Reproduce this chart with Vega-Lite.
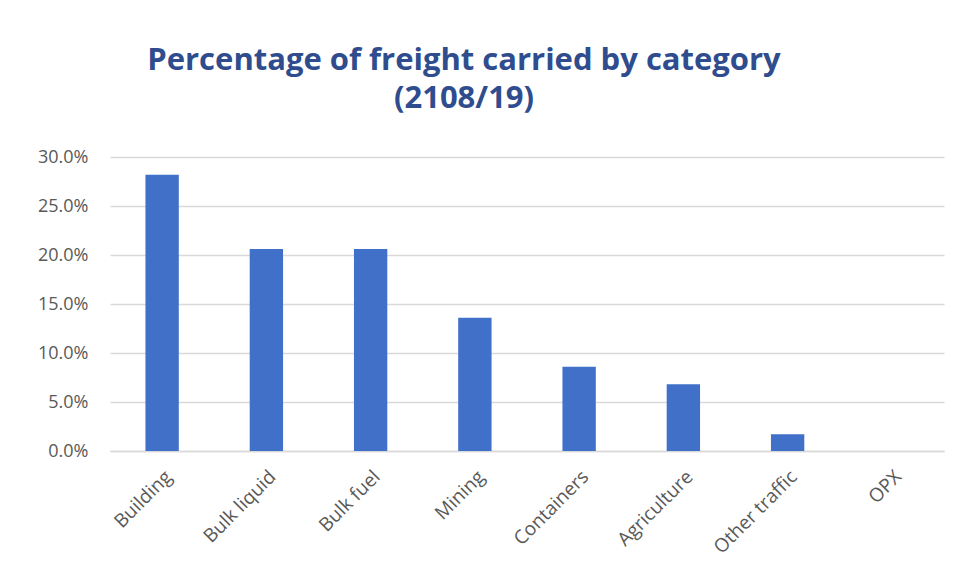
{
  "$schema": "https://vega.github.io/schema/vega-lite/v6.json",
  "width": 834,
  "height": 294,
  "autosize": {"type": "none"},
  "padding": {"left": 110, "top": 157, "right": 20, "bottom": 136},
  "background": "white",
  "title": {
    "text": ["Percentage of freight carried by category", "(2108/19)"],
    "font": "Open Sans",
    "fontSize": 31,
    "fontWeight": "bold",
    "color": "#2F4D8E",
    "anchor": "middle",
    "dx": -63,
    "lineHeight": 38,
    "offset": 33
  },
  "data": {
    "values": [
      {"category": "Building", "share": 0.282},
      {"category": "Bulk liquid", "share": 0.206},
      {"category": "Bulk fuel", "share": 0.206},
      {"category": "Mining", "share": 0.136},
      {"category": "Containers", "share": 0.086},
      {"category": "Agriculture", "share": 0.068},
      {"category": "Other traffic", "share": 0.017},
      {"category": "OPX", "share": 0.0}
    ]
  },
  "mark": {"type": "bar", "color": "#4070C8"},
  "encoding": {
    "x": {
      "field": "category",
      "type": "nominal",
      "sort": null,
      "scale": {"paddingInner": 0.68, "paddingOuter": 0.34},
      "axis": {
        "title": null,
        "labelAngle": -45,
        "labelFont": "Open Sans",
        "labelFontSize": 19,
        "labelColor": "#595959",
        "labelPadding": 16,
        "ticks": false,
        "domainColor": "#d9d9d9",
        "domainWidth": 1.5
      }
    },
    "y": {
      "field": "share",
      "type": "quantitative",
      "scale": {"domain": [0, 0.3], "nice": false},
      "axis": {
        "title": null,
        "format": ".1%",
        "values": [0, 0.05, 0.1, 0.15, 0.2, 0.25, 0.3],
        "labelFont": "Open Sans",
        "labelFontSize": 18,
        "labelColor": "#595959",
        "labelPadding": 22,
        "ticks": false,
        "domain": false,
        "gridColor": "#d9d9d9",
        "gridWidth": 1.5
      }
    }
  },
  "config": {"view": {"stroke": null}}
}
